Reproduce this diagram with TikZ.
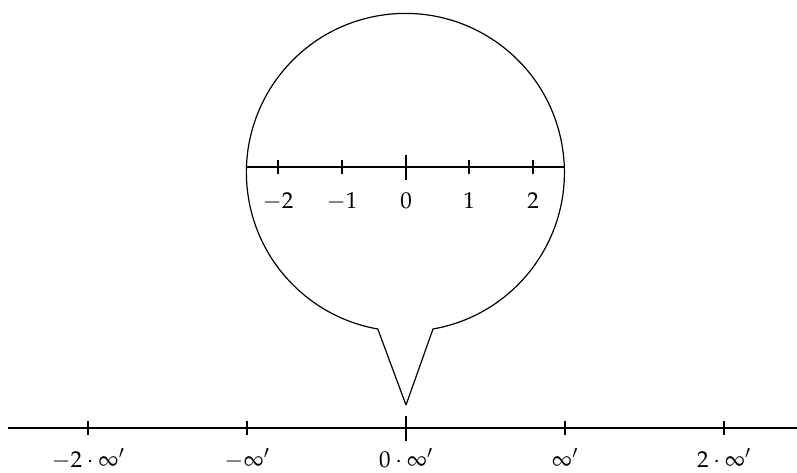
\documentclass[tikz,border=0pt]{standalone}
\usepackage{amsmath}
\usepackage{mathpazo}
\begin{document}
\begin{tikzpicture}[x=1pt,y=-1pt,line width=1.2pt,
  lbl/.style={font=\fontsize{23}{27}\selectfont, inner sep=0pt, anchor=base},
  smalltick/.style={line width=1.1pt},
  bigtick/.style={line width=1.4pt}]
\useasboundingbox (0,0) rectangle (797,472);
% bottom axis
\coordinate (axL) at (8,428);
\coordinate (axR) at (797,428);
\draw (axL) -- (axR);
\foreach \x/\t/\n in {88/{-2\cdot\infty'}/bm2, 247/{-\infty'}/bm1, 565/{\infty'}/bp1, 724/{2\cdot\infty'}/bp2}{
  \coordinate (t\n) at (\x,428);
  \draw[smalltick] ([yshift=-7]t\n) -- ([yshift=7]t\n);
  \node[lbl] (l\n) at (\x,467) {$\t$};
}
\coordinate (tb0) at (406,428);
\draw[bigtick] ([yshift=-13]tb0) -- ([yshift=12]tb0);
\node[lbl] (lb0) at (406,467) {$0\cdot\infty'$};
% callout circle
\coordinate (cc) at (405.5,172);
\coordinate (tip) at (406,405);
\draw (tip) -- (433,329) arc[start angle=80,end angle=-260,radius=159] -- (tip);
% inner axis
\coordinate (iL) at (246.5,167);
\coordinate (iR) at (564.5,167);
\draw (iL) -- (iR);
\foreach \x/\t/\n in {278/{-2}/m2, 342/{-1}/m1, 469/{1}/p1, 533/{2}/p2}{
  \coordinate (s\n) at (\x,167);
  \draw[smalltick] ([yshift=-7]s\n) -- ([yshift=7]s\n);
  \node[lbl] (i\n) at (\x,208) {$\t$};
}
\coordinate (s0) at (406,167);
\draw[bigtick] ([yshift=-13]s0) -- ([yshift=12]s0);
\node[lbl] (i0) at (406,208) {$0$};
\end{tikzpicture}
\end{document}
